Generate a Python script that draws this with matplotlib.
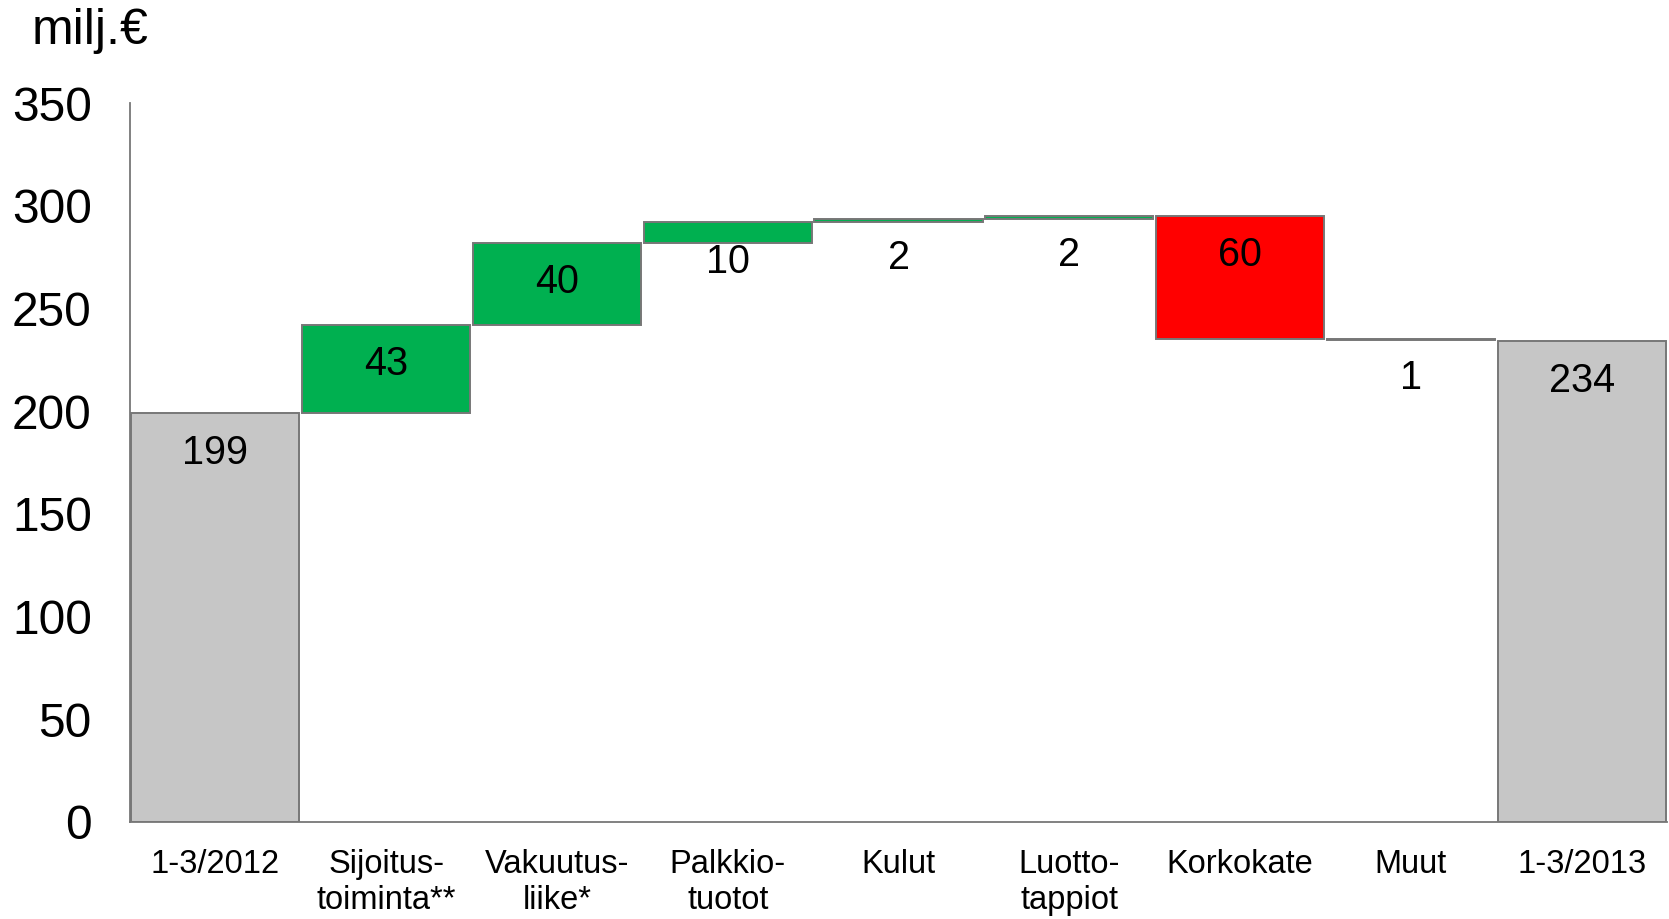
import numpy as np
import matplotlib
matplotlib.use("Agg")
import matplotlib.pyplot as plt

plt.rcParams['font.family'] = ['Liberation Sans', 'DejaVu Sans']

# Tulosvesiputous, milj. euroa
kategoriat = ["1-3/2012", "Sijoitus-\ntoiminta**", "Vakuutus-\nliike*", "Palkkio-\ntuotot",
              "Kulut", "Luotto-\ntappiot", "Korkokate", "Muut", "1-3/2013"]
alku = 199
muutokset = [43, 40, 10, 1.6, 1.6, -60, -0.6]
loppu = 234
tekstit = ["199", "43", "40", "10", "2", "2", "60", "1", "234"]

harmaa = '#C6C6C6'
vihrea = '#00B050'
punainen = '#FF0000'
reuna = '#777777'

# pylvaiden alaosat ja korkeudet
kumul = alku + np.cumsum(muutokset)
ala = [0] + list(kumul - np.array(muutokset)) + [0]
korkeus = [alku] + muutokset + [loppu]
varit = [harmaa] + [vihrea if m > 0 else punainen for m in muutokset] + [harmaa]

fig = plt.figure(figsize=(16.69, 9.19), dpi=100)
ax = fig.add_axes([130 / 1669, 1 - 821.7 / 919, 1537 / 1669, 718.7 / 919])

x = np.arange(len(kategoriat))
ax.bar(x, korkeus, bottom=ala, width=0.984, color=varit, edgecolor=reuna, linewidth=1.4)

# arvot pylvaiden ylareunan alle
for i, (b, h, t) in enumerate(zip(ala, korkeus, tekstit)):
    yla = max(b, b + h)
    ax.annotate(t, xy=(i, yla), xytext=(0, -28.5), textcoords='offset points',
                ha='center', va='center', fontsize=28.5, color='black')

ax.set_xlim(-0.5, len(kategoriat) - 0.5)
ax.set_ylim(0, 350)
ax.set_yticks(np.arange(0, 351, 50))
ax.set_xticks(x)
ax.set_xticklabels(kategoriat, fontsize=23.5, linespacing=1.2)
ax.tick_params(axis='y', length=0, pad=27.5, labelsize=34.5)
ax.tick_params(axis='x', length=0, pad=19.5)

for s in ['top', 'right']:
    ax.spines[s].set_visible(False)
for s in ['left', 'bottom']:
    ax.spines[s].set_color(reuna)
    ax.spines[s].set_linewidth(1.3)

fig.text(32 / 1669, 1 - 44 / 919, "milj.€", fontsize=36, ha='left', va='baseline')

fig.savefig("out.png", dpi=100)
